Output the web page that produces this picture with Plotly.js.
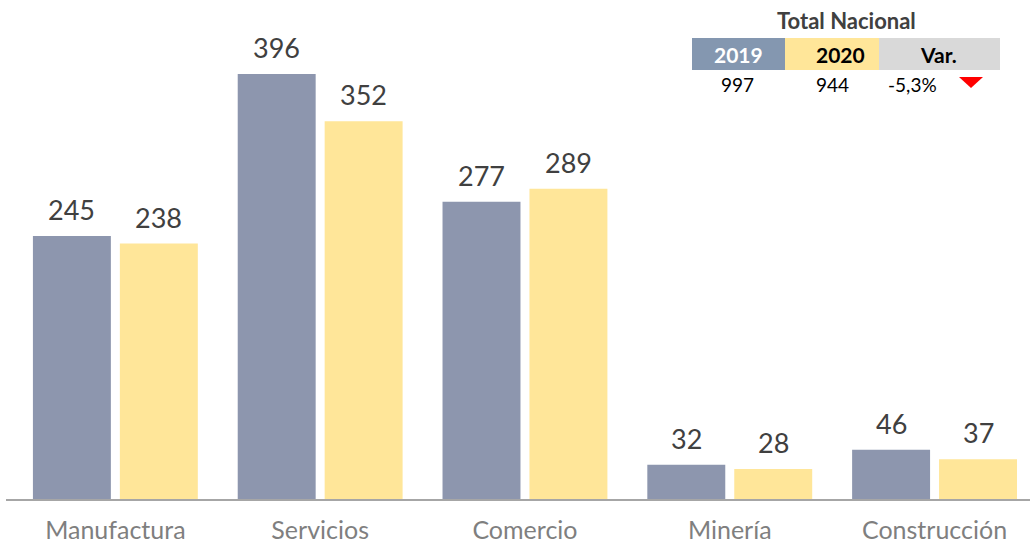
<!DOCTYPE html>
<html>
<head>
<meta charset="utf-8">
<script src="https://cdn.plot.ly/plotly-3.0.1.min.js"></script>
<style>html,body{margin:0;padding:0;background:#fff;}#chart{width:1030px;height:547px;}</style>
</head>
<body>
<div id="chart"></div>
<script>
const categories = ['Manufactura', 'Servicios', 'Comercio', 'Minería', 'Construcción'];
const values2019 = [245, 396, 277, 32, 46];
const values2020 = [238, 352, 289, 28, 37];
const seriesNames = ['2019', '2020'];
const totalLabels = ['2019', '2020', 'Var.'];
const totalValues = ['997', '944', '-5,3%'];
const tableTitle = 'Total Nacional';

const W = 1030, H = 547;
const mL = 6, mR = 0, mT = 0, mB = 48;
const pw = W - mL - mR, ph = H - mT - mB;
const px = x => (x - mL) / pw;
const py = y => (H - mB - y) / ph;

const col2019 = '#8d96ae';
const col2020 = '#ffe699';
const font = 'Lato, Roboto, sans-serif';

const traces = [
  {type: 'bar', name: seriesNames[0], x: categories, y: values2019, marker: {color: col2019}, hoverinfo: 'none'},
  {type: 'bar', name: seriesNames[1], x: categories, y: values2020, marker: {color: col2020}, hoverinfo: 'none'}
];

const annotations = [];
[values2019, values2020].forEach((vals, si) => {
  vals.forEach((v, i) => {
    annotations.push({
      x: categories[i], y: v, xref: 'x', yref: 'y',
      text: String(v), showarrow: false,
      xanchor: 'center', yanchor: 'bottom',
      xshift: si === 0 ? -43.5 : 43.5, yshift: 8,
      font: {family: font, size: 27, color: '#404040'}
    });
  });
});

// table
annotations.push({xref: 'paper', yref: 'paper', x: px(846), y: py(20), text: '<b>' + tableTitle + '</b>',
  showarrow: false, xanchor: 'center', yanchor: 'middle', font: {family: font, size: 22, color: '#404040'}});
const headCenters = [738.5, 840, 938];
const headColors = ['#ffffff', '#000000', '#000000'];
totalLabels.forEach((t, i) => {
  annotations.push({xref: 'paper', yref: 'paper', x: px(headCenters[i]), y: py(54), text: '<b>' + t + '</b>',
    showarrow: false, xanchor: 'center', yanchor: 'middle', font: {family: font, size: 21, color: headColors[i]}});
});
const valCenters = [737, 832, 912];
totalValues.forEach((t, i) => {
  annotations.push({xref: 'paper', yref: 'paper', x: px(valCenters[i]), y: py(85), text: t,
    showarrow: false, xanchor: 'center', yanchor: 'middle', font: {family: font, size: 19, color: '#000000'}});
});

const rect = (x0, x1, y0, y1, c) => ({type: 'rect', xref: 'paper', yref: 'paper',
  x0: px(x0), x1: px(x1), y0: py(y1), y1: py(y0), fillcolor: c, line: {width: 0}, layer: 'above'});
const shapes = [
  rect(692, 785, 38, 70, '#8497b0'),
  rect(785, 879, 38, 70, '#ffe699'),
  rect(879, 1000, 38, 70, '#d9d9d9'),
  {type: 'path', xref: 'paper', yref: 'paper',
   path: `M ${px(959)},${py(77)} L ${px(983)},${py(77)} L ${px(971)},${py(88)} Z`,
   fillcolor: '#ff0000', line: {width: 0}, layer: 'above'}
];

const layout = {
  width: W, height: H,
  margin: {l: mL, r: mR, t: mT, b: mB, pad: 0},
  paper_bgcolor: '#ffffff', plot_bgcolor: '#ffffff',
  showlegend: false,
  barmode: 'group', bargap: 0.151, bargroupgap: 0.1034,
  xaxis: {
    type: 'category', range: [-0.534, 4.466],
    showline: true, linecolor: '#a6a6a6', linewidth: 2,
    showgrid: false, zeroline: false, ticks: '',
    tickfont: {family: font, size: 25, color: '#7f7f7f'}, ticklabelstandoff: 8
  },
  yaxis: {range: [0, 465], showgrid: false, zeroline: false, showticklabels: false, showline: false},
  annotations: annotations,
  shapes: shapes
};

Plotly.newPlot('chart', traces, layout, {displayModeBar: false, staticPlot: true});
</script>
</body>
</html>
